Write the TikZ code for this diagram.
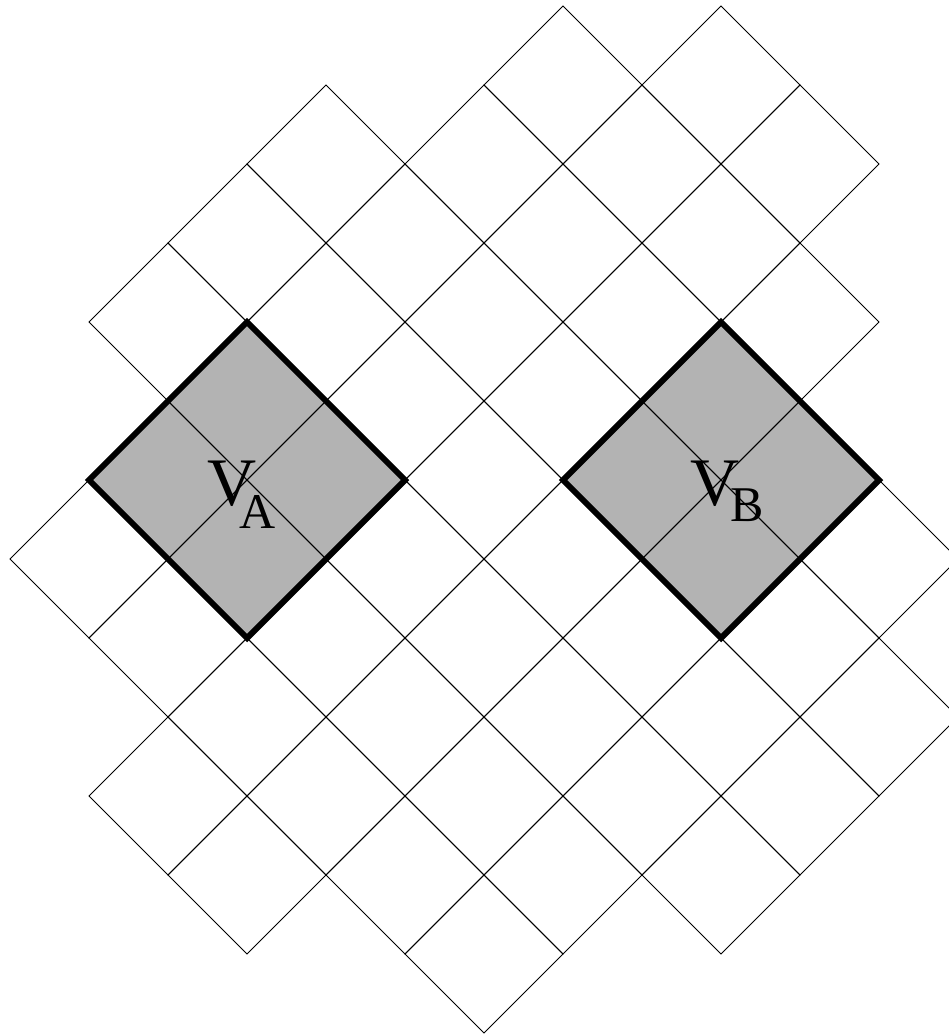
\documentclass[tikz,border=0pt]{standalone}
\usepackage{fontspec}
\setmainfont{Liberation Serif}
\definecolor{cellgray}{RGB}{179,179,179}
\begin{document}
\begin{tikzpicture}[x=1pt,y=-1pt,
  cell/.style={draw=black,line width=0.9pt},
  region/.style={fill=cellgray},
  border/.style={draw=black,line width=6pt,line join=miter},
  lbl/.style={inner sep=0pt,anchor=base west,font=\fontsize{68}{68}\selectfont}]
\useasboundingbox (0,0) rectangle (949,1036);
\clip (0,0) rectangle (949,1036);
% shaded regions
\path[region] (89,480) -- (247,322) -- (405,480) -- (247,638) -- cycle;
\path[region] (563,480) -- (721,322) -- (879,480) -- (721,638) -- cycle;
% grid cells (centre = (168+79m, 480+79n))
\foreach \m/\n in {5/-5,7/-5,
  2/-4,4/-4,6/-4,8/-4,
  1/-3,3/-3,5/-3,7/-3,
  0/-2,2/-2,4/-2,6/-2,8/-2,
  1/-1,3/-1,5/-1,7/-1,
  0/0,2/0,4/0,6/0,8/0,
  -1/1,1/1,3/1,5/1,7/1,9/1,
  0/2,2/2,4/2,6/2,8/2,
  1/3,3/3,5/3,7/3,9/3,
  0/4,2/4,4/4,6/4,8/4,
  1/5,3/5,5/5,7/5,
  4/6}{
  \pgfmathsetmacro\cx{168+79*\m}
  \pgfmathsetmacro\cy{480+79*\n}
  \draw[cell] (\cx-79,\cy) -- (\cx,\cy-79) -- (\cx+79,\cy) -- (\cx,\cy+79) -- cycle;
}
% thick borders
\draw[border] (89,480) -- (247,322) -- (405,480) -- (247,638) -- cycle;
\draw[border] (563,480) -- (721,322) -- (879,480) -- (721,638) -- cycle;
% labels
\node[lbl] (VA) at (207,505) {V\kern-17.1pt\raisebox{-23pt}{\fontsize{50}{50}\selectfont A}};
\node[lbl] (VB) at (690,505) {V\kern-9.1pt\raisebox{-16pt}{\fontsize{50}{50}\selectfont B}};
\end{tikzpicture}
\end{document}
